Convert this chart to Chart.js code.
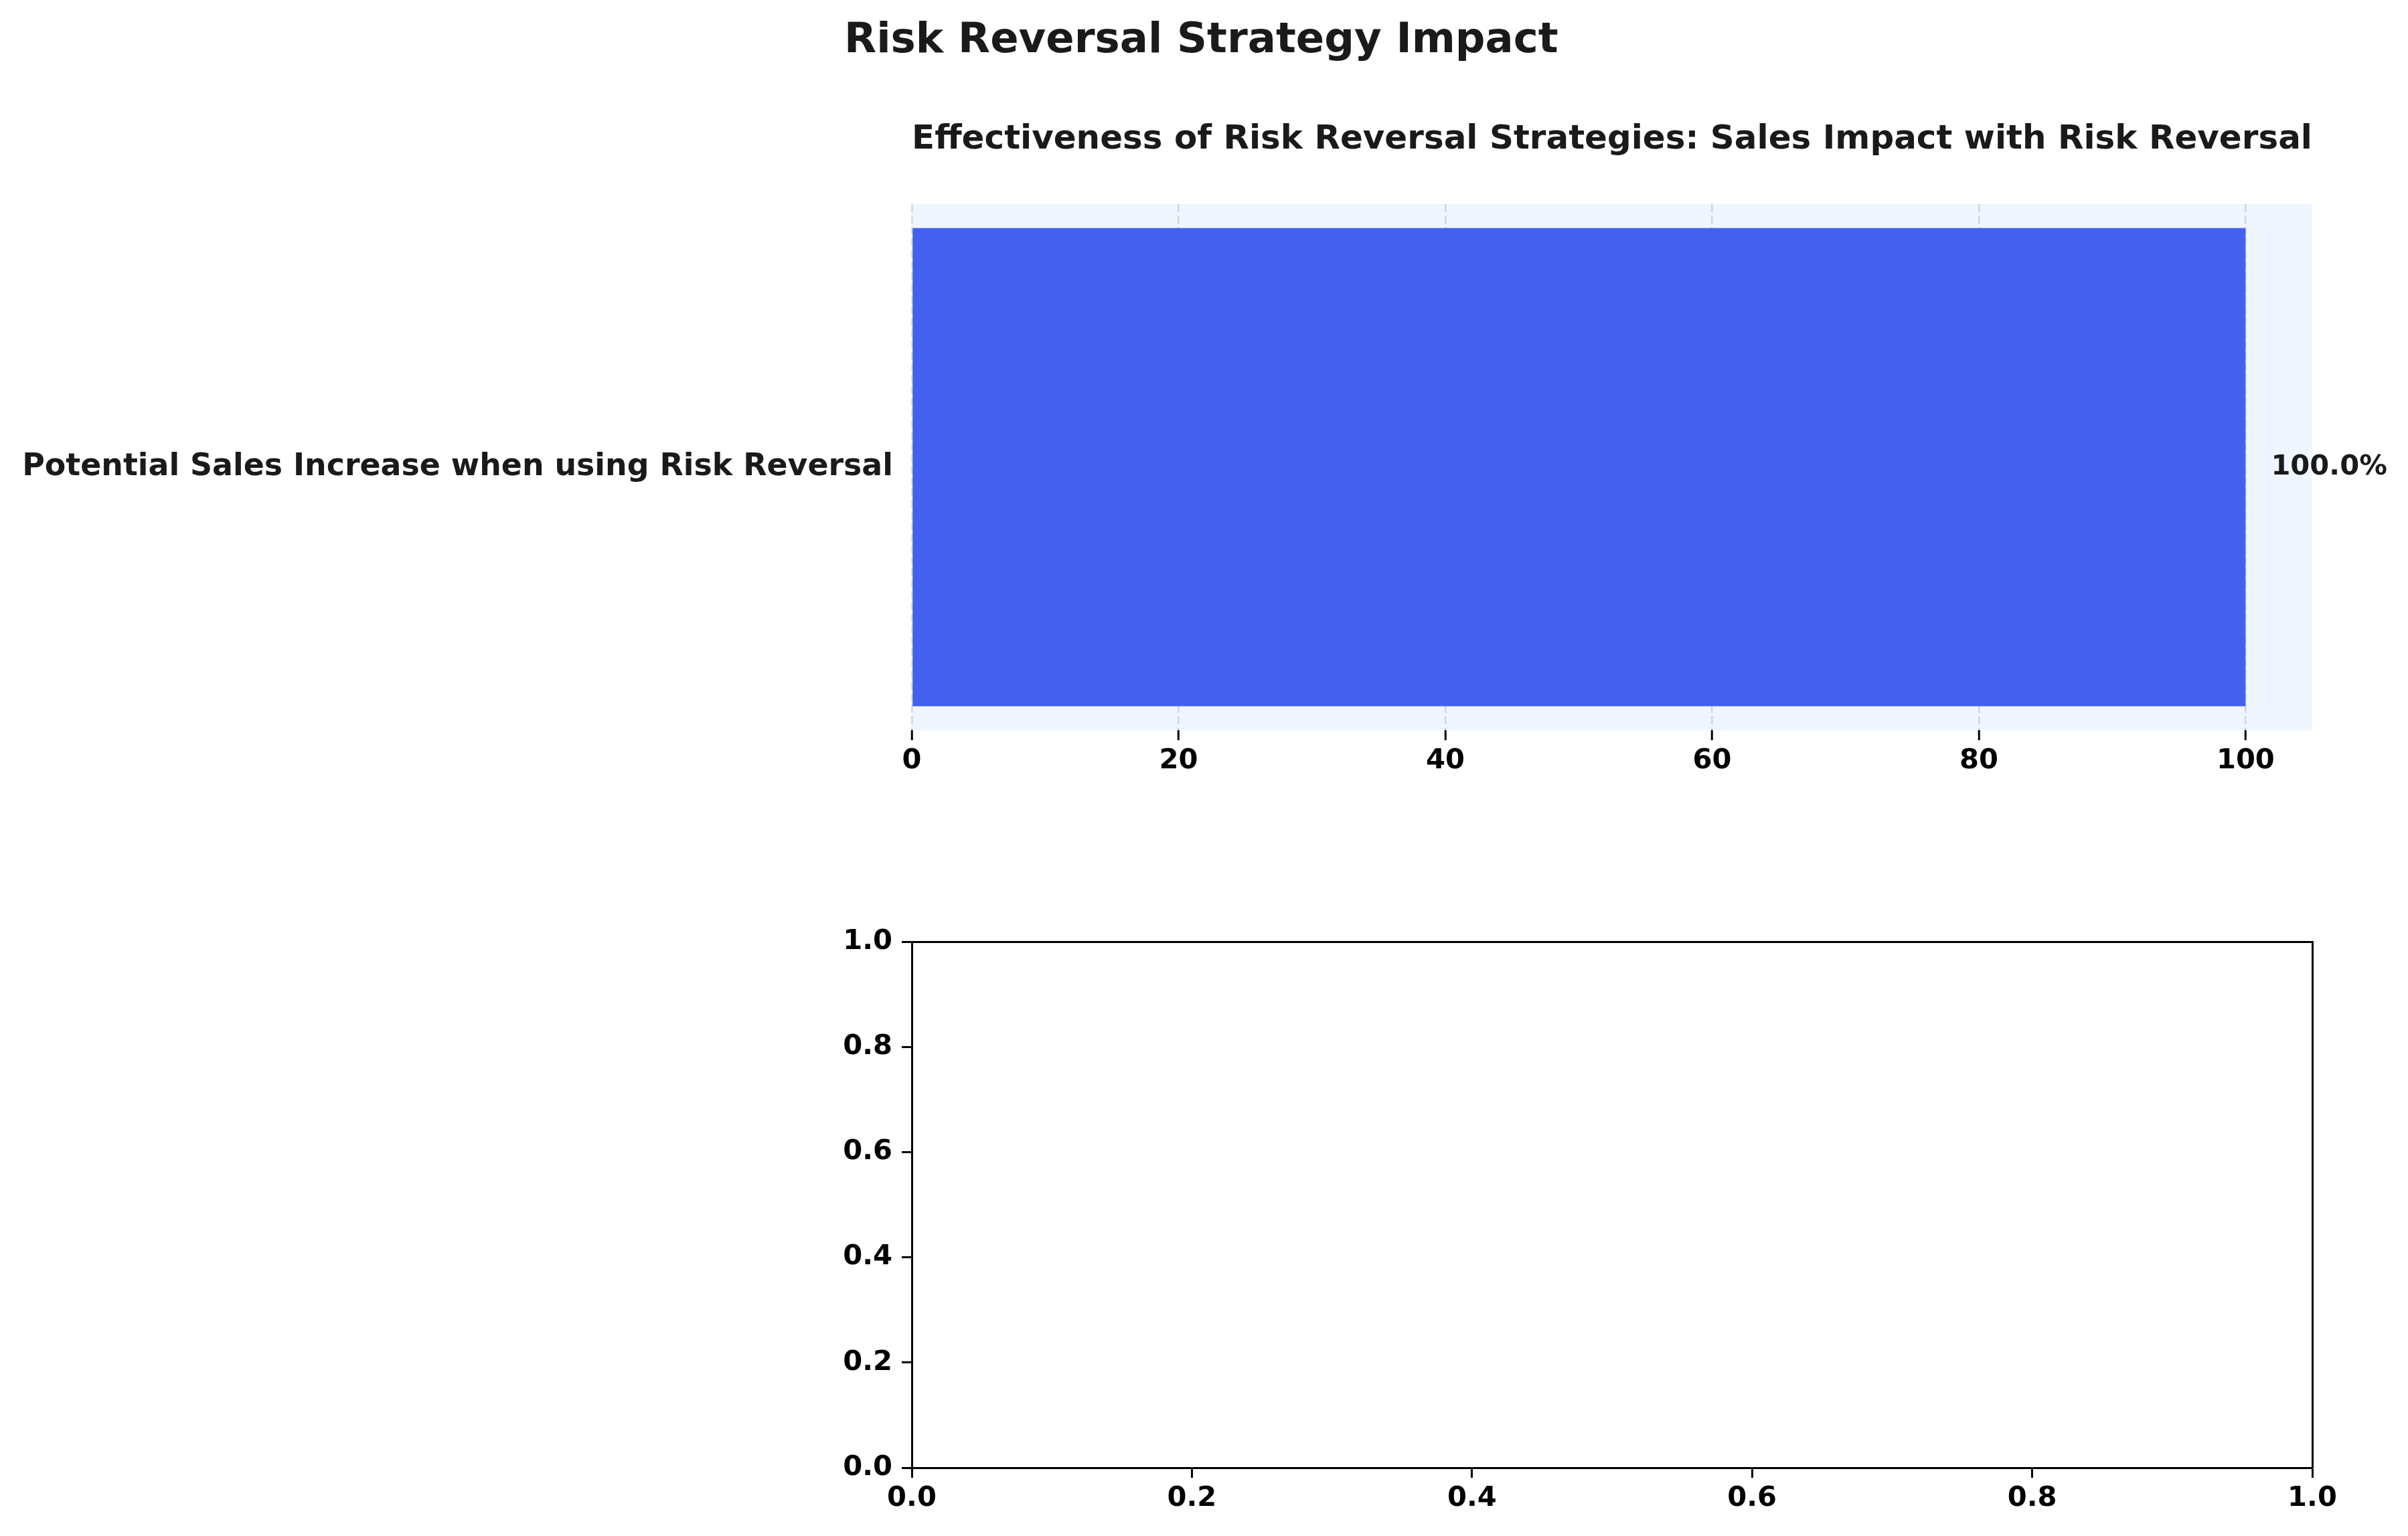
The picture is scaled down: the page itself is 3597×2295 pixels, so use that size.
<!DOCTYPE html>
<html><head><meta charset="utf-8">
<script src="https://cdn.jsdelivr.net/npm/chart.js@4.4.0/dist/chart.umd.min.js"></script>
<style>
html,body{margin:0;padding:0;background:#fff;width:3597px;height:2295px;overflow:hidden;position:relative}
canvas{position:absolute;left:0}
#topChart{top:0}
#bottomChart{top:1250px}
#figTitle{position:absolute;left:1261px;top:26px;font-family:'DejaVu Sans',sans-serif;font-weight:bold;font-size:62.5px;line-height:62.5px;color:#1a1a1a;white-space:nowrap;z-index:2}
</style></head><body>
<div id="figTitle"></div>
<canvas id="topChart" width="3597" height="1250"></canvas>
<canvas id="bottomChart" width="3597" height="1045"></canvas>
<script>
const mainTitle = 'Risk Reversal Strategy Impact';
const subTitle = 'Effectiveness of Risk Reversal Strategies: Sales Impact with Risk Reversal';
const categories = ['Potential Sales Increase when using Risk Reversal'];
const salesIncrease = [100.0];
const topXTicks = [0, 20, 40, 60, 80, 100];
const topXMax = 105;
const emptyXTicks = [0.0, 0.2, 0.4, 0.6, 0.8, 1.0];
const emptyYTicks = [0.0, 0.2, 0.4, 0.6, 0.8, 1.0];

document.getElementById('figTitle').textContent = mainTitle;

const TICK_FONT = 41.67;
const CAT_FONT = 45.83;
Chart.defaults.font.family = "'DejaVu Sans', sans-serif";
Chart.defaults.font.weight = 'bold';

const bgPlugin = {
  id: 'areaBg',
  beforeDraw(chart) {
    const {ctx, chartArea: a} = chart;
    ctx.save();
    ctx.fillStyle = '#eff6ff';
    ctx.fillRect(a.left, a.top, a.right - a.left, a.bottom - a.top);
    ctx.restore();
  }
};

const labelPlugin = {
  id: 'barLabels',
  afterDatasetsDraw(chart) {
    const {ctx} = chart;
    const meta = chart.getDatasetMeta(0);
    ctx.save();
    ctx.font = "bold " + TICK_FONT + "px 'DejaVu Sans'";
    ctx.fillStyle = '#1a1a1a';
    ctx.textAlign = 'left';
    ctx.textBaseline = 'middle';
    meta.data.forEach((bar, i) => {
      ctx.fillText(salesIncrease[i].toFixed(1) + '%', bar.x + 38, bar.y);
    });
    ctx.restore();
  }
};

new Chart(document.getElementById('topChart'), {
  type: 'bar',
  data: {
    labels: categories,
    datasets: [{
      data: salesIncrease,
      backgroundColor: '#4361ee',
      borderWidth: 0,
      categoryPercentage: 1,
      barPercentage: 0.909
    }]
  },
  options: {
    responsive: false,
    animation: false,
    indexAxis: 'y',
    layout: {padding: {left: 0, right: 143, top: 0, bottom: 0}},
    plugins: {
      legend: {display: false},
      tooltip: {enabled: false},
      title: {display: false},
      subtitle: {
        display: true, text: subTitle, align: 'center', fullSize: false, color: '#1a1a1a',
        font: {size: 50, weight: 'bold'}, padding: {top: 179, bottom: 66}
      }
    },
    scales: {
      x: {
        type: 'linear', min: 0, max: topXMax, z: 1,
        afterBuildTicks: s => { s.ticks = topXTicks.map(v => ({value: v})); },
        afterFit: s => { s.height = 159; },
        grid: {
          color: 'rgba(128,140,160,0.3)', lineWidth: 2.5,
          drawTicks: true, tickLength: 15, tickColor: '#000', tickWidth: 3, tickBorderDash: []
        },
        border: {display: false, dash: [12, 5]},
        ticks: {color: '#000', font: {size: TICK_FONT, weight: 'bold'}, padding: 6.5, maxRotation: 0}
      },
      y: {
        afterFit: s => { s.width = 1362; },
        grid: {display: false, drawTicks: false},
        border: {display: false},
        ticks: {color: '#1a1a1a', font: {size: CAT_FONT, weight: 'bold'}, padding: 28}
      }
    }
  },
  plugins: [bgPlugin, labelPlugin]
});

new Chart(document.getElementById('bottomChart'), {
  type: 'scatter',
  data: {datasets: [{data: []}]},
  options: {
    responsive: false,
    animation: false,
    layout: {padding: {left: 0, right: 143, top: 157, bottom: 0}},
    plugins: {legend: {display: false}, tooltip: {enabled: false}},
    scales: {
      x: {
        type: 'linear', position: 'bottom', min: 0, max: 1,
        afterBuildTicks: s => { s.ticks = emptyXTicks.map(v => ({value: v})); },
        afterFit: s => { s.height = 102; },
        grid: {drawOnChartArea: false, drawTicks: true, tickLength: 15, tickColor: '#000', tickWidth: 3},
        border: {display: true, color: '#000', width: 3},
        ticks: {color: '#000', font: {size: TICK_FONT, weight: 'bold'}, padding: 6.5, maxRotation: 0,
                callback: v => Number(v).toFixed(1)}
      },
      y: {
        type: 'linear', position: 'left', min: 0, max: 1,
        afterBuildTicks: s => { s.ticks = emptyYTicks.map(v => ({value: v})); },
        afterFit: s => { s.width = 1362; },
        grid: {drawOnChartArea: false, drawTicks: true, tickLength: 15, tickColor: '#000', tickWidth: 3},
        border: {display: true, color: '#000', width: 3},
        ticks: {color: '#000', font: {size: TICK_FONT, weight: 'bold'}, padding: 14,
                callback: v => Number(v).toFixed(1)}
      },
      x2: {
        type: 'linear', position: 'top', min: 0, max: 1,
        afterFit: s => { s.height = 0; },
        grid: {display: false, drawTicks: false},
        ticks: {display: false},
        border: {display: true, color: '#000', width: 3}
      },
      y2: {
        type: 'linear', position: 'right', min: 0, max: 1,
        afterFit: s => { s.width = 0; },
        grid: {display: false, drawTicks: false},
        ticks: {display: false},
        border: {display: true, color: '#000', width: 3}
      }
    }
  }
});
</script>
</body></html>
